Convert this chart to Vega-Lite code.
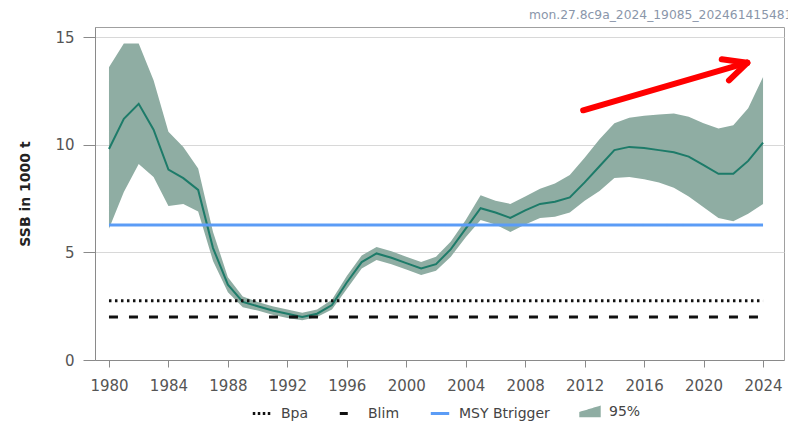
{
  "$schema": "https://vega.github.io/schema/vega-lite/v6.json",
  "width": 689,
  "height": 333,
  "padding": {"left": 18, "top": 8, "right": 0, "bottom": 0},
  "title": {
    "text": "mon.27.8c9a_2024_19085_202461415481",
    "anchor": "start",
    "frame": "group",
    "dx": 434,
    "offset": 6,
    "fontSize": 12.3,
    "fontWeight": "normal",
    "color": "#8a96aa",
    "font": "DejaVu Sans"
  },
  "data": {
    "values": [
      {"year": 1980, "ssb": 9.8, "low": 6.1, "high": 13.6},
      {"year": 1981, "ssb": 11.2, "low": 7.8, "high": 14.7},
      {"year": 1982, "ssb": 11.9, "low": 9.1, "high": 14.7},
      {"year": 1983, "ssb": 10.7, "low": 8.5, "high": 13.0},
      {"year": 1984, "ssb": 8.85, "low": 7.15, "high": 10.6},
      {"year": 1985, "ssb": 8.45, "low": 7.25, "high": 9.9},
      {"year": 1986, "ssb": 7.9, "low": 6.9, "high": 8.9},
      {"year": 1987, "ssb": 5.2, "low": 4.6, "high": 5.95},
      {"year": 1988, "ssb": 3.5, "low": 3.15, "high": 3.85},
      {"year": 1989, "ssb": 2.7, "low": 2.45, "high": 2.95},
      {"year": 1990, "ssb": 2.5, "low": 2.3, "high": 2.7},
      {"year": 1991, "ssb": 2.3, "low": 2.1, "high": 2.5},
      {"year": 1992, "ssb": 2.15, "low": 1.95, "high": 2.35},
      {"year": 1993, "ssb": 2.0, "low": 1.85, "high": 2.2},
      {"year": 1994, "ssb": 2.15, "low": 2.0, "high": 2.35},
      {"year": 1995, "ssb": 2.55, "low": 2.35, "high": 2.8},
      {"year": 1996, "ssb": 3.6, "low": 3.3, "high": 3.9},
      {"year": 1997, "ssb": 4.55, "low": 4.25, "high": 4.85},
      {"year": 1998, "ssb": 4.95, "low": 4.65, "high": 5.25},
      {"year": 1999, "ssb": 4.75, "low": 4.45, "high": 5.05},
      {"year": 2000, "ssb": 4.5, "low": 4.2, "high": 4.8},
      {"year": 2001, "ssb": 4.25, "low": 3.95, "high": 4.55},
      {"year": 2002, "ssb": 4.45, "low": 4.15, "high": 4.8},
      {"year": 2003, "ssb": 5.15, "low": 4.8, "high": 5.5},
      {"year": 2004, "ssb": 6.1, "low": 5.7, "high": 6.5},
      {"year": 2005, "ssb": 7.05, "low": 6.5, "high": 7.65},
      {"year": 2006, "ssb": 6.85, "low": 6.3, "high": 7.4},
      {"year": 2007, "ssb": 6.6, "low": 5.95, "high": 7.25},
      {"year": 2008, "ssb": 6.95, "low": 6.3, "high": 7.6},
      {"year": 2009, "ssb": 7.25, "low": 6.6, "high": 7.95},
      {"year": 2010, "ssb": 7.35, "low": 6.65, "high": 8.2},
      {"year": 2011, "ssb": 7.55, "low": 6.85, "high": 8.6},
      {"year": 2012, "ssb": 8.25, "low": 7.4, "high": 9.4},
      {"year": 2013, "ssb": 9.0, "low": 7.85, "high": 10.25},
      {"year": 2014, "ssb": 9.75, "low": 8.45, "high": 11.0},
      {"year": 2015, "ssb": 9.9, "low": 8.5, "high": 11.25},
      {"year": 2016, "ssb": 9.85, "low": 8.4, "high": 11.35},
      {"year": 2017, "ssb": 9.75, "low": 8.25, "high": 11.4},
      {"year": 2018, "ssb": 9.65, "low": 8.0, "high": 11.45},
      {"year": 2019, "ssb": 9.45, "low": 7.6, "high": 11.3},
      {"year": 2020, "ssb": 9.05, "low": 7.1, "high": 11.0},
      {"year": 2021, "ssb": 8.65, "low": 6.6, "high": 10.75},
      {"year": 2022, "ssb": 8.65, "low": 6.45, "high": 10.9},
      {"year": 2023, "ssb": 9.25, "low": 6.8, "high": 11.7},
      {"year": 2024, "ssb": 10.1, "low": 7.25, "high": 13.15}
    ]
  },
  "layer": [
    {
      "mark": {"type": "area", "opacity": 1},
      "encoding": {
        "x": {"field": "year", "type": "quantitative", "title": null,
              "scale": {"domain": [1979.06, 2025.41], "nice": false, "zero": false},
              "axis": {"values": [1980, 1984, 1988, 1992, 1996, 2000, 2004, 2008, 2012, 2016, 2020, 2024], "format": "d", "grid": false, "tickSize": 7, "labelPadding": 11}},
        "y": {"field": "low", "type": "quantitative", "title": "SSB in 1000 t",
              "scale": {"domain": [0, 15.47], "nice": false},
              "axis": {"values": [0, 5, 10, 15], "tickSize": 12, "labelPadding": 9, "titlePadding": 22}},
        "y2": {"field": "high"},
        "color": {"datum": "95%", "type": "nominal",
                  "scale": {"domain": ["Bpa", "Blim", "MSY Btrigger", "95%"], "range": ["#111111", "#111111", "#5b9cf6", "#8fada3"]}}
      }
    },
    {
      "mark": {"type": "line", "color": "#1d7b69", "strokeWidth": 2},
      "encoding": {
        "x": {"field": "year", "type": "quantitative", "title": null},
        "y": {"field": "ssb", "type": "quantitative", "title": "SSB in 1000 t"}
      }
    },
    {
      "data": {
        "values": [
          {"ref": "Bpa", "value": 2.75},
          {"ref": "Blim", "value": 2.0},
          {"ref": "MSY Btrigger", "value": 6.27}
        ]
      },
      "mark": {"type": "rule", "strokeWidth": 3},
      "encoding": {
        "x": {"datum": 1980, "type": "quantitative", "title": null},
        "x2": {"datum": 2024},
        "y": {"field": "value", "type": "quantitative", "title": "SSB in 1000 t"},
        "color": {"field": "ref", "type": "nominal",
                  "legend": {
                    "title": null,
                    "orient": "none",
                    "direction": "horizontal",
                    "legendX": 156,
                    "legendY": 374,
                    "symbolType": "stroke",
                    "symbolStrokeWidth": 3,
                    "symbolSize": 340,
                    "columnPadding": 24,
                    "labelOffset": 8,
                    "labelFontSize": 14,
                    "encode": {
                      "symbols": {
                        "update": {
                          "shape": {"signal": "datum.value === '95%' ? 'M-1,0.4L1,0.4L1,-0.5L-1,0.1Z' : 'stroke'"},
                          "fill": {"signal": "datum.value === '95%' ? '#8fada3' : 'transparent'"},
                          "stroke": {"signal": "datum.value === '95%' ? 'transparent' : (datum.value === 'MSY Btrigger' ? '#5b9cf6' : '#111111')"},
                          "strokeDash": {"signal": "datum.value === 'Bpa' ? [2.5, 2.5] : (datum.value === 'Blim' ? [8, 30] : [1, 0])"},
                          "opacity": {"value": 1}
                        }
                      }
                    }
                  }},
        "strokeDash": {"field": "ref", "type": "nominal",
                       "scale": {"domain": ["Bpa", "Blim", "MSY Btrigger"], "range": [[2.5, 3.5], [9, 11], [1, 0]]},
                       "legend": null}
      }
    },
    {
      "data": {
        "values": [
          {"xa": 2011.9, "ya": 11.6, "xb": 2022.94, "yb": 13.81},
          {"xa": 2021.22, "ya": 13.97, "xb": 2022.94, "yb": 13.81},
          {"xa": 2021.71, "ya": 12.99, "xb": 2022.94, "yb": 13.81}
        ]
      },
      "mark": {"type": "rule", "color": "#ff0000", "strokeWidth": 6, "strokeCap": "round"},
      "encoding": {
        "x": {"field": "xa", "type": "quantitative", "title": null},
        "x2": {"field": "xb"},
        "y": {"field": "ya", "type": "quantitative", "title": "SSB in 1000 t"},
        "y2": {"field": "yb"}
      }
    }
  ],
  "config": {
    "font": "DejaVu Sans",
    "view": {"stroke": "#a0a0a0", "strokeWidth": 1},
    "axis": {
      "domainColor": "#8a8a8a",
      "tickColor": "#8a8a8a",
      "labelColor": "#555555",
      "labelFontSize": 15,
      "labelFont": "DejaVu Sans",
      "gridColor": "#d8d8d8",
      "titleFontSize": 14,
      "titleFontWeight": "bold",
      "titleColor": "#222222"
    },
    "axisY": {"grid": true},
    "legend": {
      "labelFontSize": 14,
      "labelColor": "#444444",
      "padding": 0
    }
  }
}
